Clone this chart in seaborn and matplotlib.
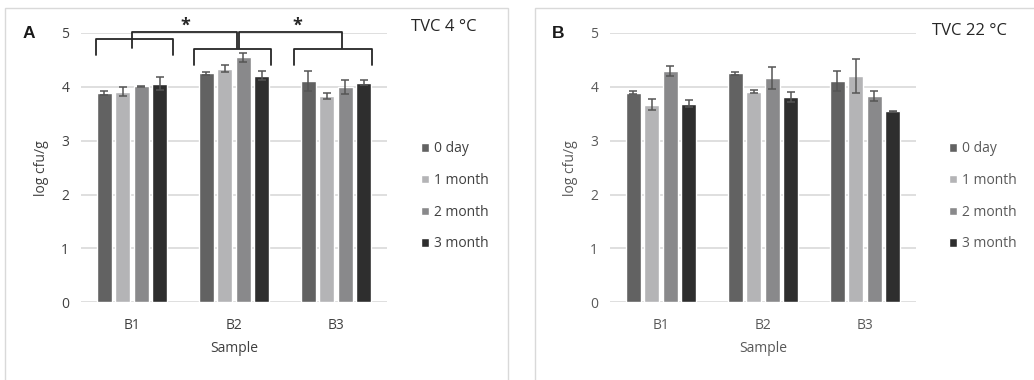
import numpy as np
import pandas as pd
import matplotlib
matplotlib.use("Agg")
import matplotlib.pyplot as plt
import seaborn as sns
from matplotlib.patches import Rectangle

# ---------------- data ----------------
samples = ["B1", "B2", "B3"]
periods = ["0 day", "1 month", "2 month", "3 month"]

# Panel A: TVC 4 °C  (rows = periods, cols = samples)
a_mean = {
    "0 day":   [3.89, 4.25, 4.11],
    "1 month": [3.91, 4.34, 3.83],
    "2 month": [4.01, 4.55, 3.99],
    "3 month": [4.06, 4.21, 4.08],
}
a_err = {
    "0 day":   [0.04, 0.03, 0.18],
    "1 month": [0.08, 0.07, 0.05],
    "2 month": [0.01, 0.08, 0.13],
    "3 month": [0.12, 0.09, 0.05],
}
# Panel B: TVC 22 °C
b_mean = {
    "0 day":   [3.89, 4.25, 4.11],
    "1 month": [3.67, 3.91, 4.20],
    "2 month": [4.29, 4.16, 3.83],
    "3 month": [3.69, 3.81, 3.55],
}
b_err = {
    "0 day":   [0.03, 0.03, 0.18],
    "1 month": [0.10, 0.03, 0.31],
    "2 month": [0.09, 0.20, 0.10],
    "3 month": [0.06, 0.10, 0.01],
}
yticks = [0, 1, 2, 3, 4, 5]
palette = ["#626262", "#b4b4b6", "#89898b", "#2e2e2e"]

# significance brackets for panel A (group index, span offsets, levels)
group_brackets = [  # (group, left offset, right offset, top level, leg bottom)
    (0, -0.35, 0.40, 4.88, 4.59),
    (1, -0.39, 0.36, 4.70, 4.405),
    (2, -0.41, 0.35, 4.70, 4.405),
]
connectors = [  # (x left, x right, top, bottom)
    (0.0, 1.03, 5.01, 4.72),
    (1.05, 2.056, 5.01, 4.72),
]
stars = [(0.526, 5.14), (1.625, 5.14)]

# ---------------- figure ----------------
sns.set_theme(style="white")
plt.rcParams["font.family"] = ["Open Sans", "DejaVu Sans"]

fig = plt.figure(figsize=(10.34, 3.80), dpi=100)

# panel frames
fig.patches.append(Rectangle((5 / 1034, -0.05), 503 / 1034, 1.05 - 8 / 380,
                             transform=fig.transFigure, fill=False,
                             edgecolor="#d9d9d9", linewidth=1.0))
fig.patches.append(Rectangle((535 / 1034, -0.05), 520 / 1034, 1.05 - 8 / 380,
                             transform=fig.transFigure, fill=False,
                             edgecolor="#d9d9d9", linewidth=1.0))


def make_df(mean):
    rows = []
    for p in periods:
        for s, v in zip(samples, mean[p]):
            rows.append({"Sample": s, "Period": p, "value": v})
    return pd.DataFrame(rows)


def draw_panel(ax, mean, err, letter, txtcolor, leg_x):
    df = make_df(mean)
    sns.barplot(data=df, x="Sample", y="value", hue="Period", order=samples,
                hue_order=periods, palette=palette, width=0.73, gap=0.2,
                errorbar=None, saturation=1, ax=ax, zorder=3)
    for cont, p in zip(ax.containers, periods):
        xs = [b.get_x() + b.get_width() / 2 for b in cont]
        ys = [b.get_height() for b in cont]
        ax.errorbar(xs, ys, yerr=err[p], fmt="none", ecolor="#555555",
                    elinewidth=1.1, capsize=3, capthick=1.1, zorder=4)
    ax.set_xlim(-0.5, 2.5)
    ax.set_ylim(0, 5)
    ax.set_yticks(yticks)
    ax.yaxis.grid(True, color="#d9d9d9", linewidth=1.2, zorder=0)
    ax.set_axisbelow(True)
    for sp in ax.spines.values():
        sp.set_visible(False)
    ax.tick_params(axis="both", length=0, labelsize=10, colors=txtcolor)
    ax.tick_params(axis="y", pad=8.5)
    ax.tick_params(axis="x", pad=11)
    ax.set_xlabel("Sample", fontsize=10, color=txtcolor, labelpad=6)
    ax.set_ylabel("log cfu/g", fontsize=10, color=txtcolor, labelpad=9)
    handles, labels = ax.get_legend_handles_labels()
    ax.legend(handles, labels, loc="center left",
              bbox_to_anchor=(leg_x, 0.483), bbox_transform=fig.transFigure,
              frameon=False, fontsize=10, labelcolor=txtcolor,
              handlelength=0.55, handleheight=0.55, handletextpad=0.35,
              labelspacing=1.2, borderpad=0, borderaxespad=0)
    fig.text(ax.get_position().x0 - 58 / 1034, 1 - 34 / 380, letter,
             fontsize=12.5, fontweight="bold", color="#1a1a1a",
             ha="left", va="center", family="Liberation Sans")
    return ax


axA = fig.add_axes([81 / 1034, (380 - 302.3) / 380, 306 / 1034, 269.3 / 380])
draw_panel(axA, a_mean, a_err, "A", "#404040", 421 / 1034)
fig.text(411 / 1034, 1 - 27 / 380, "TVC 4 °C", fontsize=12, color="#262626",
         ha="left", va="center")

axB = fig.add_axes([610 / 1034, (380 - 302.3) / 380, 306 / 1034, 269.3 / 380])
draw_panel(axB, b_mean, b_err, "B", "#595959", 949 / 1034)
fig.text(932 / 1034, 1 - 31 / 380, "TVC 22 °C", fontsize=12, color="#262626",
         ha="left", va="center")

# brackets on panel A
lk = dict(color="#262626", linewidth=1.3, clip_on=False, zorder=5,
          solid_joinstyle="round", solid_capstyle="round")
for g, lo, hi, top, bot in group_brackets:
    axA.plot([g + lo, g + lo, g + hi, g + hi], [bot, top, top, bot], **lk)
for xl, xr, top, bot in connectors:
    axA.plot([xl, xl, xr, xr], [bot, top, top, bot], **lk)
for sx, sy in stars:
    axA.text(sx, sy, "*", fontsize=13, fontweight="bold", color="#262626",
             ha="center", va="center", clip_on=False)

fig.savefig("out.png", dpi=100)
